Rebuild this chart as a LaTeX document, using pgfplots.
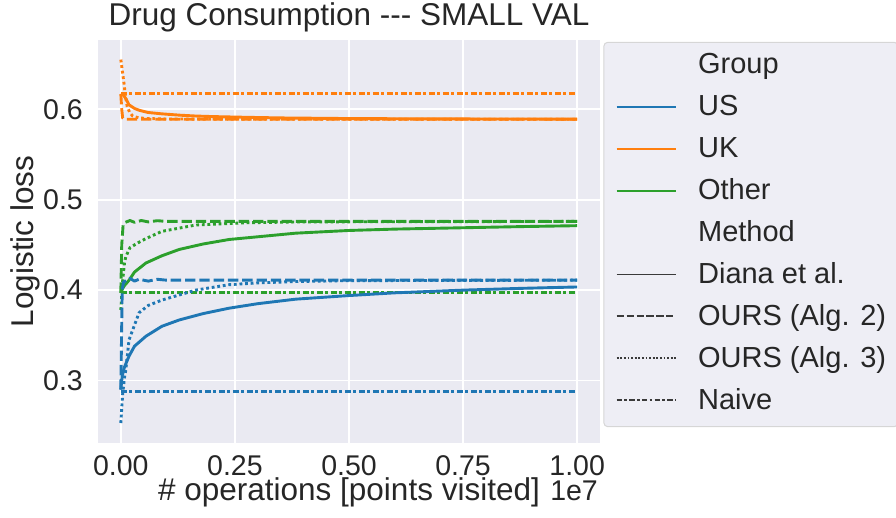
\documentclass[border=0pt]{standalone}
\usepackage{fontspec}
\setmainfont{Liberation Sans}
\usepackage{pgfplots}
\pgfplotsset{compat=1.18}
\definecolor{bg}{HTML}{EAEAF2}
\definecolor{legbg}{HTML}{EEEEF5}
\definecolor{legedge}{HTML}{D6D6D6}
\definecolor{cUS}{HTML}{1F77B4}
\definecolor{cUK}{HTML}{FF7F0E}
\definecolor{cOT}{HTML}{2CA02C}
\definecolor{txt}{HTML}{262626}
\definecolor{stylec}{HTML}{3A3A3A}

\tikzset{
  diana/.style={solid},
  alg2/.style={dash pattern=on 10.4pt off 3.9pt},
  alg3/.style={dash pattern=on 2.8pt off 2.8pt},
  naive/.style={dash pattern=on 6pt off 2.5pt on 3pt off 2.5pt},
  lalg2/.style={dash pattern=on 7.2pt off 2.7pt},
  lalg3/.style={dash pattern=on 1.8pt off 1.8pt},
  lnaive/.style={dash pattern=on 5.4pt off 2.25pt on 2.7pt off 2.25pt},
}

\begin{document}
\begin{tikzpicture}[x=1pt,y=1pt]
\useasboundingbox (0,0) rectangle (896,518);
\begin{axis}[
  at={(98pt,75pt)}, anchor=south west,
  scale only axis, width=502pt, height=403pt,
  xmin=-0.05, xmax=1.05, ymin=0.2309, ymax=0.6767,
  clip mode=individual,
  axis background/.style={fill=bg},
  axis line style={draw=none},
  grid=major, major grid style={white, line width=1.8pt},
  tick style={draw=none},
  xtick={0,0.25,0.5,0.75,1}, ytick={0.3,0.4,0.5,0.6},
  scaled x ticks=false,
  /pgf/number format/assume math mode=true,
  xticklabel={\pgfmathprintnumber[fixed,fixed zerofill,precision=2]{\tick}},
  yticklabel={\pgfmathprintnumber[fixed,fixed zerofill,precision=1]{\tick}},
  ticklabel style={font=\fontsize{28.5}{34}\selectfont, text=txt, inner sep=0pt},
  xticklabel style={anchor=north, yshift=-12pt},
  yticklabel style={anchor=east, xshift=-15pt},
  title={Drug Consumption -{}-{}- SMALL VAL},
  title style={at={(axis description cs:0.5,1)}, anchor=base, yshift=8.3pt, font=\fontsize{31.5}{38}\selectfont, text=txt, inner sep=0pt},
  xlabel={\# operations [points visited]},
  xlabel style={at={(axis description cs:0.5,0)}, anchor=base, yshift=-57.5pt, font=\fontsize{31.5}{38}\selectfont, text=txt, inner sep=0pt},
  legend image code/.code={\draw[#1, line width=1.8pt] (0pt,2pt) -- (59pt,2pt);},
  legend style={at={(1.0066,0.9955)}, anchor=north west, fill=legbg, draw=legedge, line width=1pt,
    rounded corners=4pt, font=\fontsize{29}{34}\selectfont, text=txt,
    inner xsep=12pt, inner ysep=11.6pt, row sep=15.9pt, column sep=21.5pt,
    nodes={inner sep=0pt, text height=20pt, text depth=6pt, anchor=west}},
  legend cell align=left,
  every axis plot/.append style={line width=2.9pt, line cap=butt, line join=round},
]
% ---------------- UK (orange) ----------------
\addplot[cUK, naive, forget plot] coordinates {(0,0.6175) (1,0.6175)};
\addplot[cUK, alg2, forget plot] coordinates {(0,0.617) (0.002,0.600) (0.004,0.5905) (0.008,0.589) (0.2,0.589) (0.5,0.589) (1,0.589)};
\addplot[cUK, alg3, forget plot] coordinates {(0,0.655) (0.004,0.640) (0.007,0.6286) (0.010,0.615) (0.014,0.603) (0.020,0.596) (0.026,0.5926) (0.040,0.5905) (0.060,0.5898) (0.100,0.5893) (0.3,0.589) (1,0.589)};
\addplot[cUK, diana, forget plot] coordinates {(0,0.617) (0.005,0.616) (0.011,0.612) (0.018,0.605) (0.030,0.601) (0.040,0.599) (0.060,0.5965) (0.090,0.595) (0.130,0.5935) (0.164,0.5926) (0.200,0.592) (0.273,0.5912) (0.350,0.5905) (0.500,0.5898) (0.700,0.5894) (1,0.5892)};
% ---------------- Other (green) ----------------
\addplot[cOT, naive, forget plot] coordinates {(0,0.397) (1,0.397)};
\addplot[cOT, alg2, forget plot] coordinates {(0,0.397) (0.002,0.450) (0.005,0.472) (0.010,0.475) (0.020,0.477) (0.030,0.475) (0.045,0.477) (0.060,0.4755) (0.080,0.4768) (0.100,0.476) (0.5,0.476) (1,0.476)};
\addplot[cOT, alg3, forget plot] coordinates {(0,0.378) (0.004,0.410) (0.008,0.430) (0.011,0.437) (0.020,0.447) (0.040,0.453) (0.055,0.457) (0.090,0.465) (0.164,0.472) (0.273,0.4745) (0.400,0.4755) (1,0.476)};
\addplot[cOT, diana, forget plot] coordinates {(0,0.397) (0.003,0.401) (0.008,0.405) (0.018,0.411) (0.030,0.420) (0.055,0.430) (0.090,0.438) (0.128,0.445) (0.180,0.451) (0.237,0.456) (0.300,0.459) (0.383,0.463) (0.500,0.466) (0.600,0.4675) (0.750,0.469) (0.880,0.4703) (1,0.4713)};
% ---------------- US (blue) ----------------
\addplot[cUS, naive, forget plot] coordinates {(0,0.288) (1,0.288)};
\addplot[cUS, alg2, forget plot] coordinates {(0,0.290) (0.003,0.400) (0.006,0.409) (0.010,0.410) (0.020,0.413) (0.030,0.410) (0.040,0.412) (0.060,0.410) (0.080,0.412) (0.100,0.411) (0.5,0.411) (1,0.411)};
\addplot[cUS, alg3, forget plot] coordinates {(0,0.253) (0.004,0.285) (0.008,0.303) (0.011,0.312) (0.018,0.345) (0.040,0.375) (0.060,0.383) (0.090,0.389) (0.164,0.400) (0.237,0.406) (0.300,0.408) (0.383,0.4095) (0.500,0.4105) (1,0.411)};
\addplot[cUS, diana, forget plot] coordinates {(0,0.290) (0.003,0.305) (0.008,0.315) (0.018,0.327) (0.030,0.338) (0.055,0.349) (0.090,0.360) (0.128,0.367) (0.180,0.374) (0.237,0.380) (0.300,0.385) (0.383,0.390) (0.500,0.394) (0.600,0.397) (0.750,0.400) (0.880,0.402) (1,0.4035)};
% ---------------- legend ----------------
\addlegendimage{empty legend}\addlegendentry{Group}
\addlegendimage{cUS}\addlegendentry{US}
\addlegendimage{cUK}\addlegendentry{UK}
\addlegendimage{cOT}\addlegendentry{Other}
\addlegendimage{empty legend}\addlegendentry{Method}
\addlegendimage{stylec}\addlegendentry{Diana et al.}
\addlegendimage{stylec, lalg2}\addlegendentry{OURS (Alg. 2)}
\addlegendimage{stylec, lalg3}\addlegendentry{OURS (Alg. 3)}
\addlegendimage{stylec, lnaive}\addlegendentry{Naive}
\node[anchor=base east, inner sep=0pt, font=\fontsize{28.5}{34}\selectfont, text=txt] at ([xshift=-2pt, yshift=-57.5pt]rel axis cs:1,0) {1e7};
\node[rotate=90, anchor=base, inner sep=0pt, font=\fontsize{31.5}{38}\selectfont, text=txt] at ([xshift=-64.7pt]rel axis cs:0,0.5) {Logistic loss};
\end{axis}
\end{tikzpicture}
\end{document}
